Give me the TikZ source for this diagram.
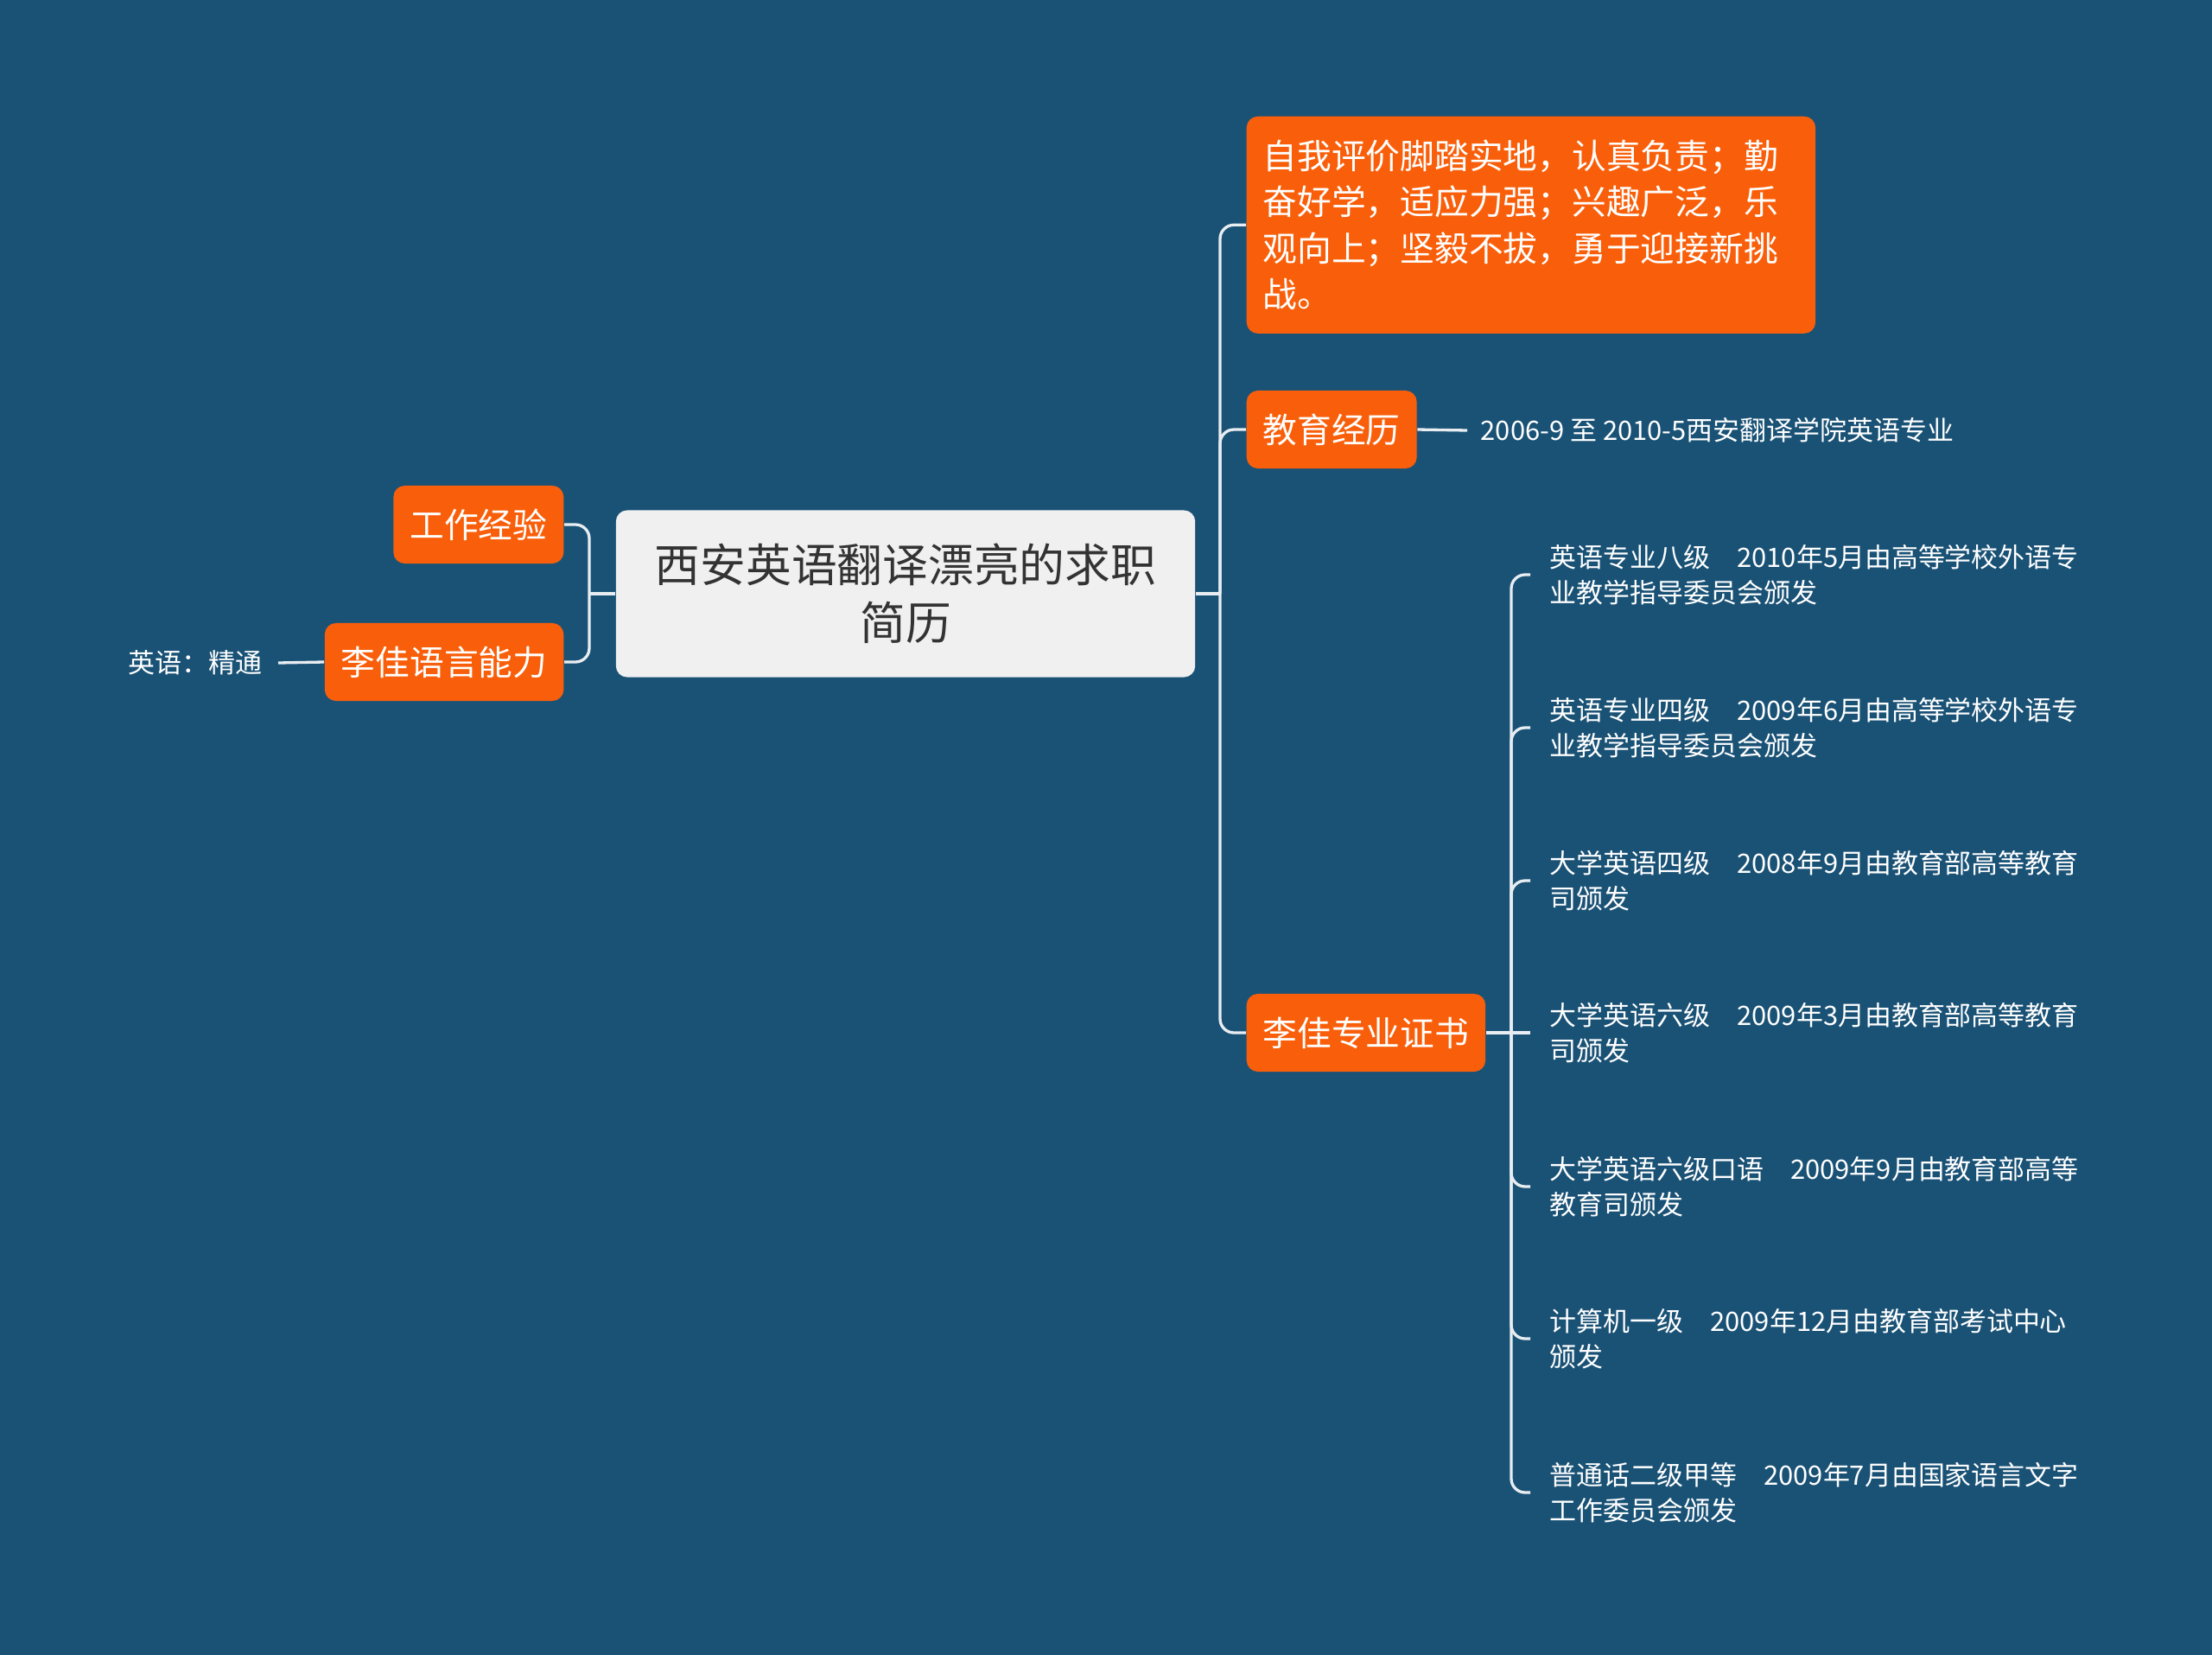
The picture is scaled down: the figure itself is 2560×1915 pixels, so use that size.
\documentclass[tikz,border=0pt]{standalone}
\usepackage{fontspec}
\setmainfont{Noto Sans CJK SC}
\usetikzlibrary{calc}
\definecolor{bgblue}{HTML}{1A5276}
\definecolor{boxorange}{HTML}{F95F0A}
\definecolor{rootgray}{HTML}{F0F0F0}
\definecolor{linewhite}{HTML}{E8EDF1}
\tikzset{
	branch/.style={fill=boxorange, text=white, rounded corners=0.13cm, minimum height=0.9cm, inner xsep=0.19cm, font=\fontsize{11.3pt}{15.1pt}\selectfont},
	leaf/.style={text=white, align=left, inner xsep=0.22cm, font=\fontsize{8.8pt}{11.7pt}\selectfont},
	conn/.style={draw=linewhite, line width=0.033cm, rounded corners=0.16cm},
}

\begin{document}
\begin{tikzpicture}[x=0.01cm, y=-0.01cm]
		%%%%% START %%%%%
		
		\useasboundingbox (0, 0) rectangle (2560, 1915);
		\fill[bgblue] (0, 0) rectangle (2560, 1915);
		
		\node[fill=rootgray, text=black!80, rounded corners=0.13cm, minimum width=6.7cm, minimum height=1.93cm, align=center, font=\fontsize{15pt}{19pt}\selectfont] (root) at (1048, 687) {西安英语翻译漂亮的求职\\简历};
		
		\node[branch, anchor=east] (work) at (653, 607) {工作经验};
		\node[branch, anchor=east] (lang) at (653, 766) {李佳语言能力};
		\node[leaf, anchor=east, inner xsep=0.18cm] (langleaf) at (322, 767) {英语：精通};
		
		\node[branch, anchor=north west, text width=6.2cm, align=left, minimum height=2.51cm] (self) at (1442, 134) {自我评价脚踏实地，认真负责；勤\\奋好学，适应力强；兴趣广泛，乐\\观向上；坚毅不拔，勇于迎接新挑\\战。};
		\node[branch, anchor=west] (edu) at (1442, 497) {教育经历};
		\node[leaf, anchor=west, inner xsep=0.15cm] (eduleaf) at (1698, 498) {2006-9 至 2010-5西安翻译学院英语专业};
		\node[branch, anchor=west] (cert) at (1442, 1195) {李佳专业证书};
		
		\node[leaf, anchor=west] (c1) at (1771, 665) {英语专业八级\quad 2010年5月由高等学校外语专\\业教学指导委员会颁发};
		\node[leaf, anchor=west] (c2) at (1771, 842) {英语专业四级\quad 2009年6月由高等学校外语专\\业教学指导委员会颁发};
		\node[leaf, anchor=west] (c3) at (1771, 1019) {大学英语四级\quad 2008年9月由教育部高等教育\\司颁发};
		\node[leaf, anchor=west] (c4) at (1771, 1195) {大学英语六级\quad 2009年3月由教育部高等教育\\司颁发};
		\node[leaf, anchor=west] (c5) at (1771, 1373) {大学英语六级口语\quad 2009年9月由教育部高等\\教育司颁发};
		\node[leaf, anchor=west] (c6) at (1771, 1549) {计算机一级\quad 2009年12月由教育部考试中心\\颁发};
		\node[leaf, anchor=west] (c7) at (1771, 1727) {普通话二级甲等\quad 2009年7月由国家语言文字\\工作委员会颁发};
		
		\coordinate (lj) at (682, 687);
		\coordinate (rj) at (1412, 687);
		\coordinate (cj) at (1749, 1195);
		
		\draw[conn] (root.west) -- (lj);
		\draw[conn] (work.east) -| (lj) |- (lang.east);
		\draw[conn] (lang.west) -- (langleaf.east);
		
		\draw[conn] (root.east) -- (rj);
		\draw[conn] (self.west) -| (rj) |- (cert.west);
		\draw[conn] (rj) |- (edu.west);
		\draw[conn] (edu.east) -- (eduleaf.west);
		
		\draw[conn] (cert.east) -- (cj);
		\draw[conn] (c1.west) -| (cj) |- (c7.west);
		\draw[conn] (cj) |- (c2.west);
		\draw[conn] (cj) |- (c3.west);
		\draw[conn] (cj) -- (c4.west);
		\draw[conn] (cj) |- (c5.west);
		\draw[conn] (cj) |- (c6.west);
		
		%%%%% END %%%%%
\end{tikzpicture}
\end{document}
